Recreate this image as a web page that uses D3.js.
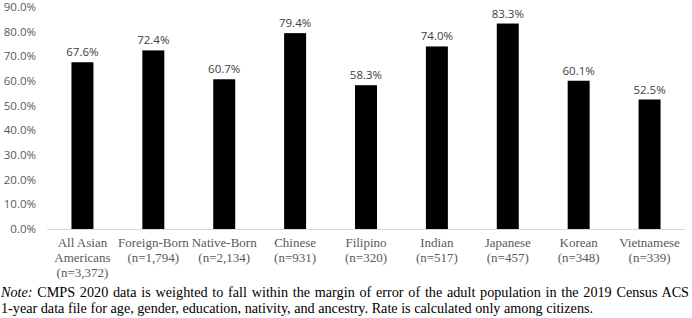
<!DOCTYPE html>
<html>
<head>
<meta charset="utf-8">
<script src="https://cdn.jsdelivr.net/npm/d3@7"></script>
<style>
  body { margin: 0; background: #fff; }
  svg { display: block; }
</style>
</head>
<body>
<div id="chart"></div>
<script>
// data
var groups = ["All Asian Americans", "Foreign-Born", "Native-Born", "Chinese", "Filipino", "Indian", "Japanese", "Korean", "Vietnamese"];
var sampleSizes = ["3,372", "1,794", "2,134", "931", "320", "517", "457", "348", "339"];
var rates = [67.6, 72.4, 60.7, 79.4, 58.3, 74.0, 83.3, 60.1, 52.5];
var yTicks = [0, 10, 20, 30, 40, 50, 60, 70, 80, 90];
var noteLines = [
  "CMPS 2020 data is weighted to fall within the margin of error of the adult population in the 2019 Census ACS",
  "1-year data file for age, gender, education, nativity, and ancestry. Rate is calculated only among citizens."
];

var width = 692, height = 318;
var plot = {left: 47, right: 685, top: 7, bottom: 229};

var svg = d3.select("#chart").append("svg")
  .attr("width", width)
  .attr("height", height);

var x = d3.scaleBand()
  .domain(groups)
  .range([plot.left, plot.right])
  .paddingInner(0.69)
  .paddingOuter(0.345);

var y = d3.scaleLinear()
  .domain([0, 90])
  .range([plot.bottom, plot.top]);

// baseline
svg.append("line")
  .attr("x1", plot.left).attr("x2", plot.right)
  .attr("y1", y(0) + 0.5).attr("y2", y(0) + 0.5)
  .style("stroke", "#d9d9d9")
  .style("stroke-width", 1);

// y tick labels
svg.append("g")
  .selectAll("text")
  .data(yTicks)
  .enter().append("text")
  .attr("x", 36)
  .attr("y", function(d) { return y(d); })
  .attr("dy", "0.35em")
  .style("text-anchor", "end")
  .style("font", "11.5px 'Open Sans', sans-serif")
  .style("fill", "#595959")
  .text(function(d) { return d.toFixed(1) + "%"; });

// bars
svg.append("g")
  .selectAll("rect")
  .data(rates)
  .enter().append("rect")
  .attr("x", function(d, i) { return x(groups[i]); })
  .attr("y", function(d) { return y(d); })
  .attr("width", x.bandwidth())
  .attr("height", function(d) { return y(0) - y(d); })
  .style("fill", "#000");

// value labels
svg.append("g")
  .selectAll("text")
  .data(rates)
  .enter().append("text")
  .attr("x", function(d, i) { return x(groups[i]) + x.bandwidth() / 2; })
  .attr("y", function(d) { return y(d) - 6; })
  .style("text-anchor", "middle")
  .style("font", "11.5px 'Open Sans', sans-serif")
  .style("fill", "#404040")
  .text(function(d) { return d.toFixed(1) + "%"; });

// category labels, wrapped like the original
var cat = svg.append("g")
  .selectAll("text")
  .data(groups)
  .enter().append("text")
  .attr("x", function(d) { return x(d) + x.bandwidth() / 2; })
  .attr("y", 247)
  .style("text-anchor", "middle")
  .style("font", "13px 'Liberation Serif', serif")
  .style("fill", "#595959");

cat.each(function(d, i) {
  var lines = d == "All Asian Americans" ? ["All Asian", "Americans"] : [d];
  lines.push("(n=" + sampleSizes[i] + ")");
  var t = d3.select(this);
  lines.forEach(function(l, j) {
    t.append("tspan")
      .attr("x", x(d) + x.bandwidth() / 2)
      .attr("dy", j == 0 ? 0 : 15)
      .text(l);
  });
});

// note under the chart (first line is justified in the original)
var note = svg.append("g")
  .style("font", "14.2px 'Liberation Serif', serif")
  .style("fill", "#000");

var first = note.append("text").attr("x", 1).attr("y", 297);
first.append("tspan").style("font-style", "italic").text("Note:");
first.append("tspan").text(" " + noteLines[0]);

var w = first.node().getComputedTextLength();
var gaps = (noteLines[0].match(/ /g) || []).length + 1;
if (w < 688) first.style("word-spacing", ((688 - w) / gaps) + "px");

note.append("text")
  .attr("x", 1)
  .attr("y", 313)
  .text(noteLines[1]);
</script>
</body>
</html>
